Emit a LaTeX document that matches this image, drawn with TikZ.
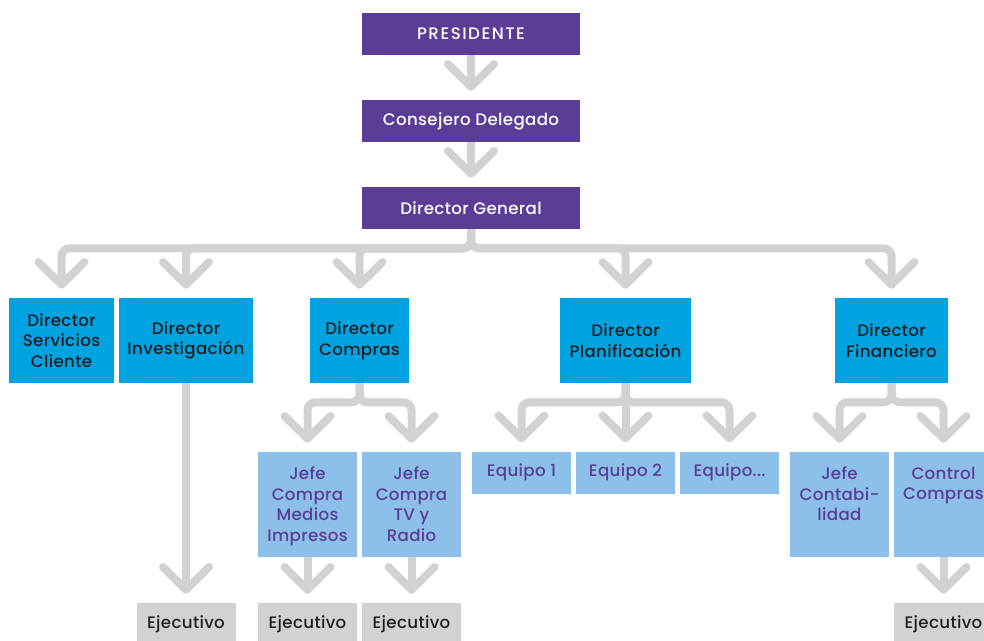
\documentclass[tikz,border=0pt]{standalone}
\usepackage{fontspec}
\setmainfont{Poppins}[UprightFont=* Medium, LetterSpace=2]
\usetikzlibrary{arrows.meta}

\definecolor{morado}{HTML}{5B3C96}
\definecolor{azul}{HTML}{00A3E1}
\definecolor{celeste}{HTML}{8CC0E8}
\definecolor{gris}{HTML}{D1D2D4}
\definecolor{tinta}{HTML}{231F20}

\tikzset{
  caja/.style={rectangle, inner sep=0pt, align=center, font=\fontsize{12.5}{15.5}\selectfont},
  cima/.style={caja, fill=morado, text=white, minimum width=163.5pt, minimum height=31.5pt},
  director/.style={caja, fill=azul, text=tinta, minimum height=63.75pt},
  jefe/.style={caja, fill=celeste, text=morado},
  equipo/.style={caja, fill=celeste, text=morado, minimum width=74.25pt, minimum height=31.5pt},
  ejecutivo/.style={caja, fill=gris, text=tinta, minimum width=74.25pt, minimum height=31.5pt},
  enlace/.style={draw=gris, line width=6pt, rounded corners=6pt,
    -{Straight Barb[length=17pt, width=34.5pt, round]}, shorten >=6.75pt},
}
% texto de las cajas de jefe, pegado arriba
\newcommand{\arriba}[1]{\parbox[c][78.75pt][t]{74.25pt}{\centering\vspace*{11pt}#1\par}}

\begin{document}
\begin{tikzpicture}[x=0.75pt, y=-0.75pt, node distance=78pt]
  \useasboundingbox (0,0) rectangle (984,640);
  \clip (0,0) rectangle (984,640);

  % cabecera
  \node[cima] (pres) at (471,34) {\addfontfeatures{LetterSpace=9}PRESIDENTE};
  \node[cima, below of=pres, node distance=65.25pt] (cons) {Consejero Delegado};
  \node[cima, below of=cons, node distance=65.25pt] (dg) {Director General};

  % directores
  \node[director, minimum width=78.75pt] (dsc) at (61.5,340.5) {Director\\Servicios\\Cliente};
  \node[director, minimum width=100.5pt] (di) at (186,340.5) {Director\\Investigación};
  \node[director, minimum width=74.25pt] (dcom) at (359.5,340.5) {Director\\Compras};
  \node[director, minimum width=98.25pt] (dpl) at (625.5,340.5) {Director\\Planificación};
  \node[director, minimum width=84.75pt] (dfi) at (891.5,340.5) {Director\\Financiero};

  % jefes y equipos
  \node[jefe] (jmi) at (307.5,504.5) {\arriba{Jefe\\Compra\\Medios\\Impresos}};
  \node[jefe, right of=jmi] (jtv) {\arriba{Jefe\\Compra\\TV y\\Radio}};
  \node[equipo] (eq1) at (521.5,472.5) {Equipo 1};
  \node[equipo, right of=eq1] (eq2) {Equipo 2};
  \node[equipo, right of=eq2] (eq3) {Equipo...};
  \node[jefe] (jc) at (839.5,504.5) {\arriba{Jefe\\Contabi-\\lidad}};
  \node[jefe, right of=jc] (cc) {\arriba{Control\\Compras}};

  % ejecutivos
  \node[ejecutivo] (ej1) at (186,624) {Ejecutivo};
  \node[ejecutivo] (ej2) at (307.5,624) {Ejecutivo};
  \node[ejecutivo] (ej3) at (411.5,624) {Ejecutivo};
  \node[ejecutivo] (ej4) at (943.5,624) {Ejecutivo};

  % flechas
  \draw[enlace] (pres) -- (cons);
  \draw[enlace] (cons) -- (dg);
  \foreach \d in {dsc,di,dcom,dpl,dfi}
    \draw[enlace] (dg.south) -- ++(0,19) -| (\d);
  \foreach \j in {jmi,jtv}
    \draw[enlace] (dcom.south) -- ++(0,19) -| (\j);
  \foreach \e in {eq1,eq3}
    \draw[enlace] (dpl.south) -- ++(0,19) -| (\e);
  \draw[enlace] (dpl) -- (eq2);
  \foreach \j in {jc,cc}
    \draw[enlace] (dfi.south) -- ++(0,19) -| (\j);
  \draw[enlace] (di) -- (ej1);
  \draw[enlace] (jmi) -- (ej2);
  \draw[enlace] (jtv) -- (ej3);
  \draw[enlace] (cc) -- (ej4);
\end{tikzpicture}
\end{document}
